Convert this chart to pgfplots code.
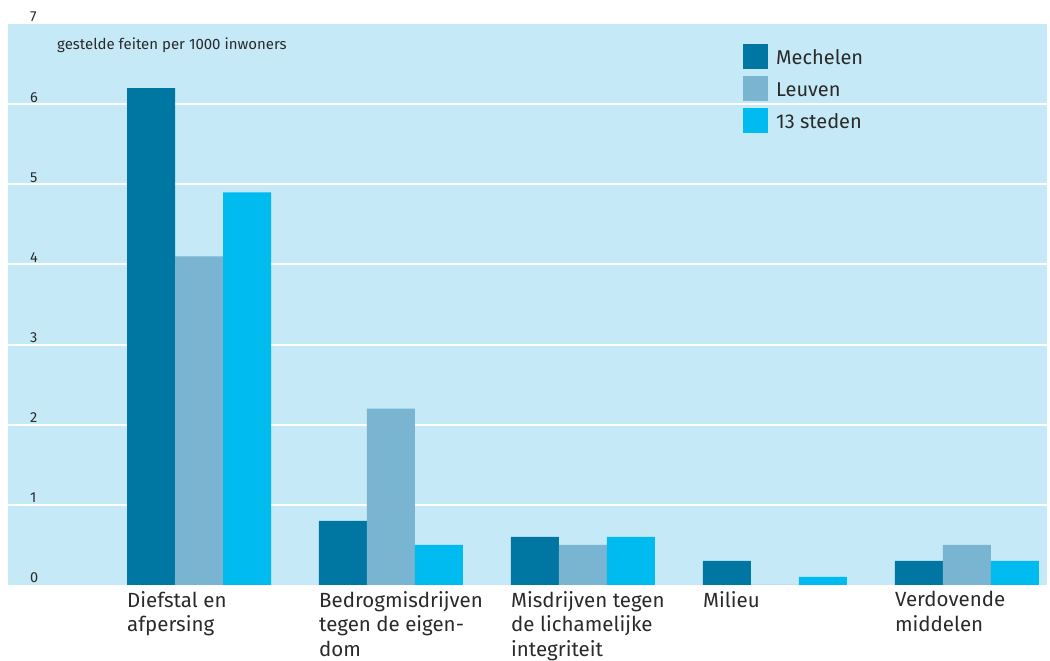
\documentclass[border=0pt]{standalone}
\usepackage{pgfplots}
\pgfplotsset{compat=1.18}
\usepackage{fontspec}
\setmainfont{Fira Sans}
\definecolor{bg}{HTML}{C6E9F8}
\definecolor{mech}{HTML}{0076A3}
\definecolor{leuv}{HTML}{79B4D0}
\definecolor{sted}{HTML}{00BBF0}
\definecolor{txt}{HTML}{2A2A2A}
\begin{document}
\begin{tikzpicture}
\useasboundingbox (-8pt,-76pt) rectangle (1042pt,585pt);
\begin{axis}[
  scale only axis, width=1039pt, height=561pt,
  at={(0pt,0pt)}, anchor=south west,
  xmin=-0.995, xmax=4.417, ymin=0, ymax=7,
  ybar=0pt, bar width=48pt,
  axis background/.style={fill=bg},
  axis line style={draw=none},
  major tick length=0pt,
  ytick={1,2,3,4,5,6},
  extra y ticks={0,7},
  extra y tick style={grid=none},
  ymajorgrids, grid style={white, line width=2pt},
  /pgf/number format/assume math mode=true,
  yticklabel style={anchor=base west, xshift=22pt, yshift=2pt, inner sep=0pt, font=\fontsize{14.5}{16}\selectfont, text=txt},
  xtick={0,1,2,3,4},
  xticklabels={Diefstal en\\afpersing, Bedrogmisdrijven\\tegen de eigen-\\dom, Misdrijven tegen\\de lichamelijke\\integriteit, Milieu, Verdovende\\middelen},
  xticklabel style={anchor=north west, align=left, xshift=-72pt, yshift=-6pt, inner sep=0pt, font=\fontsize{20.5}{24.5}\selectfont, text=txt},
  legend style={at={(axis description cs:0.7074,0.9643)}, anchor=north west, draw=none, fill=none, inner sep=0pt, row sep=7pt, font=\fontsize{20}{24}\selectfont, text=txt, nodes={inner sep=0pt}, /tikz/every odd column/.append style={column sep=8pt}},
  legend cell align=left,
  legend image code/.code={\fill[#1] (0pt,-11pt) rectangle (25pt,14pt);},
]
\addplot[fill=mech, draw=none] coordinates {(0,6.2) (1,0.8) (2,0.6) (3,0.3) (4,0.3)};
\addplot[fill=leuv, draw=none] coordinates {(0,4.1) (1,2.2) (2,0.5) (3,0) (4,0.5)};
\addplot[fill=sted, draw=none] coordinates {(0,4.9) (1,0.5) (2,0.6) (3,0.1) (4,0.3)};
\legend{Mechelen, Leuven, 13 steden}
\node[anchor=base west, inner sep=0pt, font=\fontsize{15}{17}\selectfont, text=txt] at ([xshift=49pt, yshift=-26pt]rel axis cs:0,1) {gestelde feiten per 1000 inwoners};
\end{axis}
\end{tikzpicture}
\end{document}
